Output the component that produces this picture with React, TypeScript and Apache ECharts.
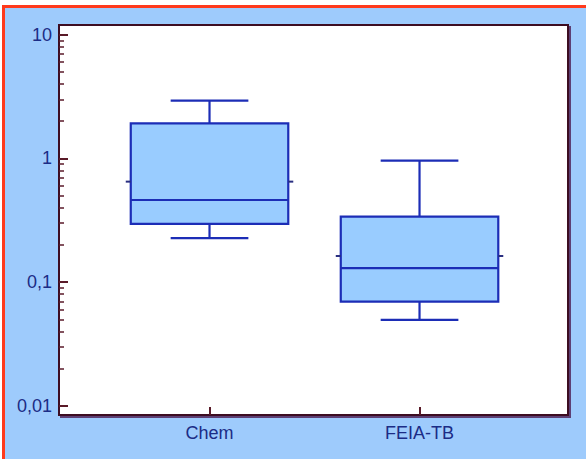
import React, { useEffect, useRef } from "react";
import * as echarts from "echarts";

const categories = ["Chem", "FEIA-TB"];
const categoryPositions = [1, 2];
const whiskerLow = [0.227, 0.0496];
const q1 = [0.296, 0.0697];
const median = [0.462, 0.13];
const q3 = [1.92, 0.339];
const whiskerHigh = [2.93, 0.96];
const means = [0.65, 0.163];

const majorTicks = [0.01, 0.1, 1, 10];
const majorTickLabels = ["0,01", "0,1", "1", "10"];
const minorTicks = [
  0.02, 0.03, 0.04, 0.05, 0.06, 0.07, 0.08, 0.09,
  0.2, 0.3, 0.4, 0.5, 0.6, 0.7, 0.8, 0.9,
  2, 3, 4, 5, 6, 7, 8, 9,
];

const TEXT = "#1b2c86";
const FRAME = "#3e0f22";
const TICK = "#5a1a28";
const BOX_STROKE = "#1c2db6";
const BOX_FILL = "#99ccff";
const BG = "#9ecbfc";

export default function App() {
  const ref = useRef<HTMLDivElement>(null);

  useEffect(() => {
    if (!ref.current) return;
    const chart = echarts.init(ref.current, undefined, { renderer: "svg" });

    const data = categories.map((c, i) => [
      categoryPositions[i],
      whiskerLow[i],
      q1[i],
      median[i],
      q3[i],
      whiskerHigh[i],
      means[i],
    ]);

    const labelFor = (v: number) => {
      for (let i = 0; i < majorTicks.length; i++) {
        if (Math.abs(Math.log10(v) - Math.log10(majorTicks[i])) < 1e-6) return majorTickLabels[i];
      }
      return "";
    };

    const option: any = {
      animation: false,
      backgroundColor: "#ffffff",
      graphic: [
        {
          type: "rect",
          z: -100,
          silent: true,
          shape: { x: 4, y: 7, width: 600, height: 470 },
          style: { fill: BG },
        },
        {
          type: "line",
          z: -90,
          silent: true,
          shape: { x1: 2, y1: 6.5, x2: 590, y2: 6.5 },
          style: { stroke: "#ff3a1c", lineWidth: 3 },
        },
        {
          type: "line",
          z: -90,
          silent: true,
          shape: { x1: 3.5, y1: 5, x2: 3.5, y2: 470 },
          style: { stroke: "#ff3a1c", lineWidth: 3 },
        },
      ],
      grid: {
        show: true,
        left: 59,
        top: 25,
        width: 509,
        height: 390,
        backgroundColor: "#ffffff",
        borderColor: FRAME,
        borderWidth: 2,
        shadowColor: "rgba(70,25,70,0.75)",
        shadowOffsetX: 2,
        shadowOffsetY: 2,
        shadowBlur: 0,
      },
      xAxis: {
        type: "value",
        min: 0.2833,
        max: 2.707,
        axisLine: { show: false },
        splitLine: { show: false },
        axisTick: {
          show: true,
          inside: true,
          length: 8,
          customValues: categoryPositions,
          lineStyle: { color: TICK, width: 2 },
        },
        axisLabel: {
          customValues: categoryPositions,
          formatter: (v: number) => categories[categoryPositions.indexOf(Math.round(v))] ?? "",
          color: TEXT,
          fontSize: 18,
          fontFamily: "Liberation Sans, Arial, sans-serif",
          margin: 9,
        },
      },
      yAxis: [
        {
          type: "log",
          logBase: 10,
          min: 0.00846,
          max: 11.98,
          position: "left",
          axisLine: { show: false },
          splitLine: { show: false },
          minorTick: { show: false },
          axisTick: {
            show: true,
            inside: true,
            length: 9,
            customValues: majorTicks,
            lineStyle: { color: TICK, width: 2 },
          },
          axisLabel: {
            customValues: majorTicks,
            formatter: labelFor,
            color: TEXT,
            fontSize: 18,
            fontFamily: "Liberation Sans, Arial, sans-serif",
            margin: 7,
          },
        },
        {
          type: "log",
          logBase: 10,
          min: 0.00846,
          max: 11.98,
          position: "left",
          offset: 0,
          axisLine: { show: false },
          splitLine: { show: false },
          axisLabel: { show: false },
          axisTick: {
            show: true,
            inside: true,
            length: 5,
            customValues: minorTicks,
            lineStyle: { color: TICK, width: 1.5 },
          },
        },
      ],
      series: [
        {
          type: "custom",
          xAxisIndex: 0,
          yAxisIndex: 0,
          data,
          encode: { x: 0, y: [1, 2, 3, 4, 5, 6] },
          renderItem: (params: any, api: any) => {
            const x = api.value(0);
            const lo = api.coord([x, api.value(1)]);
            const b1 = api.coord([x, api.value(2)]);
            const md = api.coord([x, api.value(3)]);
            const b3 = api.coord([x, api.value(4)]);
            const hi = api.coord([x, api.value(5)]);
            const mn = api.coord([x, api.value(6)]);
            const left = api.coord([x - 0.375, api.value(3)])[0];
            const right = api.coord([x + 0.375, api.value(3)])[0];
            const capL = api.coord([x - 0.185, api.value(3)])[0];
            const capR = api.coord([x + 0.185, api.value(3)])[0];
            const cx = lo[0];
            const ls = { stroke: BOX_STROKE, lineWidth: 2.2 };
            return {
              type: "group",
              children: [
                { type: "line", shape: { x1: cx, y1: b3[1], x2: cx, y2: hi[1] }, style: ls },
                { type: "line", shape: { x1: cx, y1: b1[1], x2: cx, y2: lo[1] }, style: ls },
                { type: "line", shape: { x1: capL, y1: hi[1], x2: capR, y2: hi[1] }, style: ls },
                { type: "line", shape: { x1: capL, y1: lo[1], x2: capR, y2: lo[1] }, style: ls },
                {
                  type: "rect",
                  shape: { x: left, y: b3[1], width: right - left, height: b1[1] - b3[1] },
                  style: { fill: BOX_FILL, stroke: BOX_STROKE, lineWidth: 2.2 },
                },
                { type: "line", shape: { x1: left, y1: md[1], x2: right, y2: md[1] }, style: ls },
                { type: "line", shape: { x1: left - 5, y1: mn[1], x2: left, y2: mn[1] }, style: { stroke: "#2a2f80", lineWidth: 2 } },
                { type: "line", shape: { x1: right, y1: mn[1], x2: right + 5, y2: mn[1] }, style: { stroke: "#2a2f80", lineWidth: 2 } },
              ],
            };
          },
        },
      ],
    };

    chart.setOption(option);
    return () => chart.dispose();
  }, []);

  return (
    <div
      ref={ref}
      style={{ position: "absolute", left: 0, top: 0, width: 586, height: 459 }}
    />
  );
}
